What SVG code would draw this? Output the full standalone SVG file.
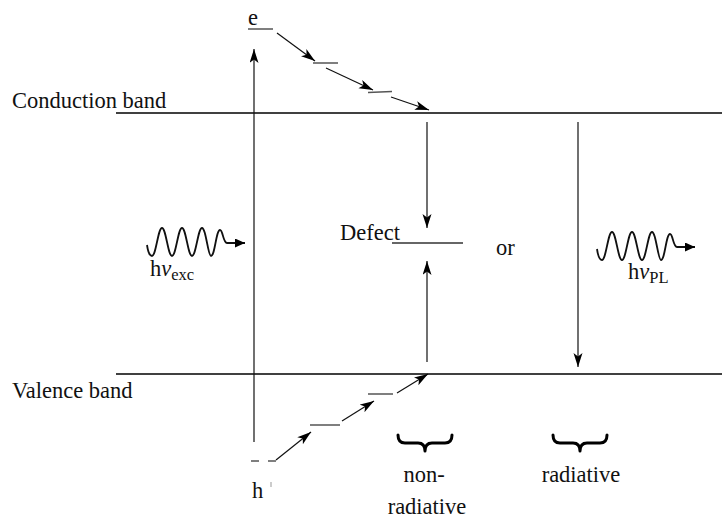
<svg xmlns="http://www.w3.org/2000/svg" width="722" height="519" viewBox="0 0 722 519">
<style>
text{font-family:"Liberation Serif","Times New Roman",serif;font-size:22.5px;fill:#111}
.band{stroke:#000;stroke-width:1.3;fill:none}
.lvl{stroke:#555;stroke-width:1.5;fill:none}
.arr{stroke:#111;stroke-width:1.2;fill:none;marker-end:url(#ah)}
.wave{stroke:#111;stroke-width:1.8;fill:none;marker-end:url(#wh)}
.brace{stroke:#000;stroke-width:3;fill:none;stroke-linecap:round;stroke-linejoin:round}
</style>
<defs>
<marker id="ah" markerUnits="userSpaceOnUse" markerWidth="16" markerHeight="10" refX="14" refY="4.5" orient="auto">
<path d="M0,0 L14,4.5 L0,9 L3.5,4.5 z" fill="#000"/>
</marker>
<marker id="wh" markerUnits="userSpaceOnUse" markerWidth="12" markerHeight="10" refX="10" refY="4.5" orient="auto">
<path d="M0,0 L10,4.5 L0,9 z" fill="#000"/>
</marker>
</defs>
<rect width="722" height="519" fill="#fff"/>
<g id="bands">
<line class="band" x1="116" y1="113" x2="722" y2="113"/>
<line class="band" x1="116" y1="374" x2="722" y2="374"/>
<text x="12" y="108">Conduction band</text>
<text x="12" y="398">Valence band</text>
</g>
<g id="electron">
<text x="248" y="25">e</text>
<line class="lvl" x1="248" y1="29" x2="273" y2="29"/>
<line class="lvl" x1="313" y1="63" x2="338" y2="63"/>
<line class="lvl" x1="368" y1="92.5" x2="392" y2="91.5"/>
</g>
<g id="hole">
<line class="lvl" x1="251" y1="461" x2="259" y2="461"/>
<line class="lvl" x1="268" y1="461" x2="276" y2="461"/>
<line class="lvl" x1="310" y1="425" x2="340" y2="425"/>
<line class="lvl" x1="368" y1="394" x2="393" y2="394"/>
<text x="252" y="498">h</text>
<line x1="271" y1="482" x2="271" y2="487" stroke="#999" stroke-width="1"/>
</g>
<g id="defect">
<text x="340" y="240">Defect</text>
<line x1="392" y1="243" x2="463" y2="243" stroke="#333" stroke-width="1.3"/>
</g>
<g id="or"><text x="496" y="255">or</text></g>
<g id="excitation">
<path class="wave" d="M147,245 C148,252 150,256 152,256 C156,256 158,228 162,228 C166,228 168,256 172,256 C176,256 178,228 182,228 C186,228 188,256 192,256 C196,256 198,228 202,228 C206,228 208,256 211,256 C215,256 216,230 220,230 C223,230 223,243 227,243 L245,243"/>
<text x="150" y="276">h<tspan font-style="italic">ν</tspan><tspan font-size="16.5" dy="4">exc</tspan></text>
</g>
<g id="emission">
<path class="wave" transform="translate(450,4)" d="M147,245 C148,252 150,256 152,256 C156,256 158,228 162,228 C166,228 168,256 172,256 C176,256 178,228 182,228 C186,228 188,256 192,256 C196,256 198,228 202,228 C206,228 208,256 211,256 C215,256 216,230 220,230 C223,230 223,243 227,243 L245,243"/>
<text x="628" y="279">h<tspan font-style="italic">ν</tspan><tspan font-size="16.5" dy="4">PL</tspan></text>
</g>
<g id="nonradiative">
<path class="brace" d="M398,435 Q398,443 405,443 L418,443 Q425,443 425,451 Q425,443 432,443 L445,443 Q452,443 452,435"/>
<text x="424" y="482" text-anchor="middle">non-</text>
<text x="427" y="514" text-anchor="middle">radiative</text>
</g>
<g id="radiative">
<path class="brace" d="M553,435 Q553,443 560,443 L573,443 Q580,443 580,451 Q580,443 587,443 L600,443 Q607,443 607,435"/>
<text x="581" y="482" text-anchor="middle">radiative</text>
</g>
<g id="connectors">
<line class="arr" x1="254" y1="442" x2="254" y2="49"/>
<line class="arr" x1="277" y1="33" x2="315" y2="61"/>
<line class="arr" x1="326" y1="68" x2="373" y2="90"/>
<line class="arr" x1="391" y1="97" x2="429" y2="110"/>
<line class="arr" x1="276" y1="460" x2="311" y2="432"/>
<line class="arr" x1="342" y1="421" x2="374" y2="401"/>
<line class="arr" x1="397" y1="393" x2="428" y2="374"/>
<line class="arr" x1="427" y1="122" x2="427" y2="228"/>
<line class="arr" x1="427" y1="362" x2="427" y2="261"/>
<line class="arr" x1="578" y1="122" x2="578" y2="367"/>
</g>
</svg>
